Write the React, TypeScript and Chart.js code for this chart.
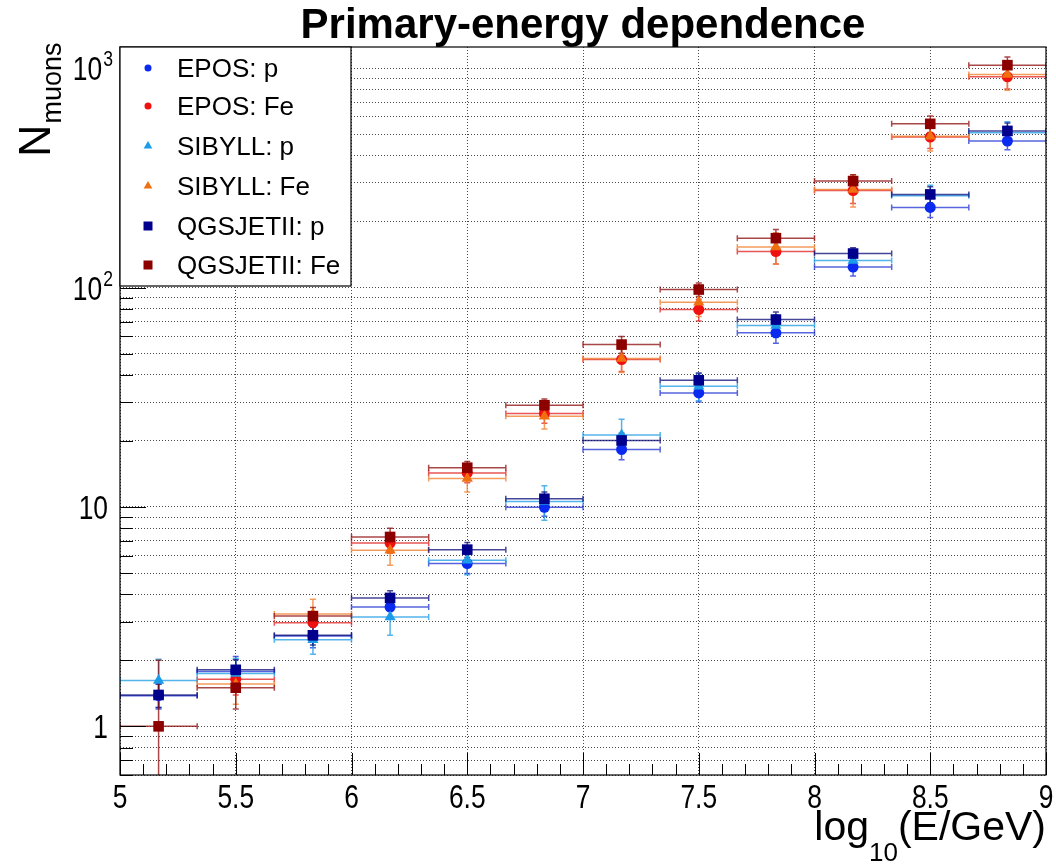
import React, { useEffect, useRef } from "react";
import { Chart, registerables } from "chart.js";

Chart.register(...registerables);

// ---------- data ----------
const binCenters = [5.1667, 5.5, 5.8333, 6.1667, 6.5, 6.8333, 7.1667, 7.5, 7.8333, 8.1667, 8.5, 8.8333];
const binHalfWidth = 0.1667;

const seriesNames = ["EPOS: p", "EPOS: Fe", "SIBYLL: p", "SIBYLL: Fe", "QGSJETII: p", "QGSJETII: Fe"];

const eposP = [1.38, 1.78, 2.58, 3.5, 5.52, 9.97, 18.3, 33.1, 62.2, 124, 232, 466];
const eposPErr = [0.18, 0.3, 0.3, 0.35, 0.55, 0.9, 1.9, 3.0, 6.5, 11, 23, 41];
const eposFe = [null, 1.64, 2.97, 6.85, 14.3, 26.7, 47.0, 79.4, 146, 277, 486, 914];
const eposFeErr = [null, 0.25, 0.35, 0.7, 1.4, 2.6, 5.5, 9, 18, 35, 55, 110];
const sibyllP = [1.62, 1.74, 2.48, 3.15, 5.71, 10.6, 21.3, 35.5, 67.2, 133, 262, 508];
const sibyllPErr = [0.4, 0.3, 0.35, 0.55, 0.8, 1.9, 3.8, 5, 8, 14, 31, 62];
const sibyllFe = [null, 1.56, 3.25, 6.35, 13.5, 25.9, 47.5, 85.8, 153, 280, 490, 937];
const sibyllFeErr = [null, 0.3, 0.55, 0.93, 1.8, 3.2, 6.5, 12, 25, 47, 70, 144];
const qgsP = [1.39, 1.81, 2.6, 3.85, 6.39, 10.9, 20.1, 37.8, 71.5, 143, 266, 518];
const qgsPErr = [0.17, 0.2, 0.25, 0.3, 0.5, 0.8, 1.6, 3, 6, 9, 22, 45];
const qgsFe = [1.0, 1.5, 3.18, 7.3, 15.1, 29.1, 55.0, 98, 168, 306, 558, 1033];
const qgsFeErr = [1.0, 0.3, 0.3, 0.7, 1.0, 2.0, 4.8, 7, 16, 21, 48, 92];

const xTickValues = [5, 5.5, 6, 6.5, 7, 7.5, 8, 8.5, 9];
const xTickLabels = ["5", "5.5", "6", "6.5", "7", "7.5", "8", "8.5", "9"];
const yGridValues = [
  0.6, 0.7, 0.8, 0.9, 1, 2, 3, 4, 5, 6, 7, 8, 9, 10, 20, 30, 40, 50, 60, 70, 80, 90,
  100, 200, 300, 400, 500, 600, 700, 800, 900, 1000,
];
const yMajorValues = [1, 10, 100, 1000];
const yLabelBases = ["1", "10", "10", "10"];
const yLabelExps = ["", "", "2", "3"];

const X_MIN = 5;
const X_MAX = 9;
const Y_MIN = 0.6;
const Y_MAX = 1250;

// ---------- styles ----------
const FONT = '"Liberation Sans", Arial, Helvetica, sans-serif';

const seriesTable = [
  { name: seriesNames[0], values: eposP, errors: eposPErr, color: "#0a2af0", line: "rgba(30,50,210,0.75)", style: "circle", radius: 5.5 },
  { name: seriesNames[1], values: eposFe, errors: eposFeErr, color: "#f01010", line: "rgba(225,30,30,0.75)", style: "circle", radius: 5.5 },
  { name: seriesNames[2], values: sibyllP, errors: sibyllPErr, color: "#1c9ce8", line: "rgba(40,160,230,0.8)", style: "triangle", radius: 6.5 },
  { name: seriesNames[3], values: sibyllFe, errors: sibyllFeErr, color: "#f06f10", line: "rgba(240,130,50,0.8)", style: "triangle", radius: 6.5 },
  { name: seriesNames[4], values: qgsP, errors: qgsPErr, color: "#00008c", line: "rgba(10,10,120,0.75)", style: "rect", radius: 7.5 },
  { name: seriesNames[5], values: qgsFe, errors: qgsFeErr, color: "#8c0000", line: "rgba(140,10,10,0.75)", style: "rect", radius: 7.5 },
];

function drawMarker(ctx: CanvasRenderingContext2D, style: string, x: number, y: number, r: number, color: string) {
  ctx.fillStyle = color;
  ctx.beginPath();
  if (style === "circle") {
    ctx.arc(x, y, r, 0, Math.PI * 2);
  } else if (style === "triangle") {
    ctx.moveTo(x, y - r);
    ctx.lineTo(x + r * 0.866, y + r * 0.5);
    ctx.lineTo(x - r * 0.866, y + r * 0.5);
    ctx.closePath();
  } else {
    ctx.rect(x - r, y - r, 2 * r, 2 * r);
  }
  ctx.fill();
}

const decorPlugin = {
  id: "decor",
  beforeDatasetsDraw(chart: any) {
    const { ctx, chartArea: a, scales } = chart;
    const xs = scales.x;
    const ys = scales.y;
    ctx.save();
    ctx.beginPath();
    ctx.rect(a.left, a.top, a.right - a.left, a.bottom - a.top);
    ctx.clip();
    ctx.lineWidth = 1.5;
    const cap = 3;
    seriesTable.forEach((s) => {
      ctx.strokeStyle = s.line;
      s.values.forEach((v: number | null, i: number) => {
        if (v == null) return;
        const e = s.errors[i] as number;
        const cx = xs.getPixelForValue(binCenters[i]);
        const x0 = xs.getPixelForValue(binCenters[i] - binHalfWidth);
        const x1 = xs.getPixelForValue(binCenters[i] + binHalfWidth);
        const cy = ys.getPixelForValue(v);
        const yHi = ys.getPixelForValue(v + e);
        const lo = v - e;
        const yLo = lo > 0 ? ys.getPixelForValue(lo) : a.bottom + 20;
        ctx.beginPath();
        ctx.moveTo(x0, cy);
        ctx.lineTo(x1, cy);
        ctx.moveTo(x0, cy - cap);
        ctx.lineTo(x0, cy + cap);
        ctx.moveTo(x1, cy - cap);
        ctx.lineTo(x1, cy + cap);
        ctx.moveTo(cx, yLo);
        ctx.lineTo(cx, yHi);
        ctx.moveTo(cx - cap, yHi);
        ctx.lineTo(cx + cap, yHi);
        if (lo > 0) {
          ctx.moveTo(cx - cap, yLo);
          ctx.lineTo(cx + cap, yLo);
        }
        ctx.stroke();
      });
    });
    ctx.restore();
  },
  afterDraw(chart: any) {
    const { ctx, chartArea: a, scales } = chart;
    const xs = scales.x;
    const ys = scales.y;
    ctx.save();

    // inner tick marks
    ctx.strokeStyle = "#000";
    ctx.lineWidth = 1;
    ctx.beginPath();
    for (let k = 0; k <= 40; k++) {
      const v = X_MIN + k * 0.1;
      const px = Math.round(xs.getPixelForValue(v)) + 0.5;
      const len = k % 5 === 0 ? 22 : 11;
      ctx.moveTo(px, a.bottom);
      ctx.lineTo(px, a.bottom - len);
    }
    yGridValues.forEach((v) => {
      const py = Math.round(ys.getPixelForValue(v)) + 0.5;
      const len = yMajorValues.includes(v) ? 26 : 13;
      ctx.moveTo(a.left, py);
      ctx.lineTo(a.left + len, py);
    });
    ctx.stroke();

    // frame
    ctx.strokeStyle = "#000";
    ctx.lineWidth = 1.2;
    ctx.strokeRect(a.left, a.top, a.right - a.left, a.bottom - a.top);

    ctx.fillStyle = "#000";
    // x tick labels
    const tickFs = 33;
    const squeeze = 0.8;
    ctx.font = `${tickFs}px ${FONT}`;
    ctx.textBaseline = "alphabetic";
    xTickValues.forEach((v, i) => {
      const px = xs.getPixelForValue(v);
      const w = ctx.measureText(xTickLabels[i]).width * squeeze;
      ctx.save();
      ctx.translate(px - w / 2, 808);
      ctx.scale(squeeze, 1);
      ctx.fillText(xTickLabels[i], 0, 0);
      ctx.restore();
    });

    // y tick labels
    yMajorValues.forEach((v, i) => {
      const py = ys.getPixelForValue(v);
      ctx.font = `${tickFs}px ${FONT}`;
      const wb = ctx.measureText(yLabelBases[i]).width * squeeze;
      let we = 0;
      if (yLabelExps[i]) {
        ctx.font = `${22}px ${FONT}`;
        we = ctx.measureText(yLabelExps[i]).width * squeeze + 1;
      }
      const right = yLabelExps[i] ? 113 : 108;
      const xb = right - we - wb;
      ctx.font = `${tickFs}px ${FONT}`;
      ctx.save();
      ctx.translate(xb, py + 12);
      ctx.scale(squeeze, 1);
      ctx.fillText(yLabelBases[i], 0, 0);
      ctx.restore();
      if (yLabelExps[i]) {
        ctx.font = `${22}px ${FONT}`;
        ctx.save();
        ctx.translate(xb + wb + 1, py - 2);
        ctx.scale(squeeze, 1);
        ctx.fillText(yLabelExps[i], 0, 0);
        ctx.restore();
      }
    });

    // title
    ctx.font = `bold 42px ${FONT}`;
    ctx.textAlign = "center";
    ctx.fillText("Primary-energy dependence", (a.left + a.right) / 2, 38);
    ctx.textAlign = "left";

    // y axis title
    ctx.save();
    ctx.translate(50, 157);
    ctx.rotate(-Math.PI / 2);
    ctx.font = `45px ${FONT}`;
    const wN = ctx.measureText("N").width;
    ctx.fillText("N", 0, 0);
    ctx.font = `27px ${FONT}`;
    ctx.fillText("muons", wN + 1, 11);
    ctx.restore();

    // x axis title
    ctx.font = `41px ${FONT}`;
    const wLog = ctx.measureText("log").width;
    const wRest = ctx.measureText("(E/GeV)").width;
    ctx.font = `26px ${FONT}`;
    const wSub = ctx.measureText("10").width;
    const startX = a.right - (wLog + wSub + wRest);
    ctx.font = `41px ${FONT}`;
    ctx.fillText("log", startX, 840);
    ctx.font = `26px ${FONT}`;
    ctx.fillText("10", startX + wLog, 861);
    ctx.font = `41px ${FONT}`;
    ctx.fillText("(E/GeV)", startX + wLog + wSub, 840);

    // legend
    const lx = a.left;
    const ly = a.top;
    const lw = 231;
    const lh = 239;
    ctx.fillStyle = "#fff";
    ctx.fillRect(lx, ly, lw, lh);
    ctx.strokeStyle = "#000";
    ctx.lineWidth = 1.2;
    ctx.strokeRect(lx, ly, lw, lh);
    ctx.font = `26px ${FONT}`;
    const rowYs = [68, 106, 146, 186, 226, 265];
    seriesTable.forEach((s, i) => {
      const ry = rowYs[i];
      const mr = s.style === "circle" ? 3.5 : s.style === "triangle" ? 5 : 4.5;
      drawMarker(ctx, s.style, lx + 28, ry, mr, s.color);
      ctx.fillStyle = "#000";
      ctx.fillText(s.name, lx + 57, ry + 9);
    });

    ctx.restore();
  },
};

export default function App() {
  const ref = useRef<HTMLCanvasElement>(null);
  useEffect(() => {
    document.body.style.margin = "0";
    const datasets = seriesTable.map((s, idx) => ({
      label: s.name,
      data: binCenters
        .map((x, i) => ({ x, y: s.values[i] }))
        .filter((p) => p.y != null),
      pointStyle: s.style,
      pointRadius: s.radius,
      pointBackgroundColor: s.color,
      pointBorderColor: s.color,
      pointBorderWidth: 0,
      showLine: false,
      order: seriesTable.length - 1 - idx,
    }));
    const chart = new Chart(ref.current as HTMLCanvasElement, {
      type: "scatter",
      data: { datasets: datasets as any },
      options: {
        animation: false,
        responsive: false,
        devicePixelRatio: 1,
        events: [],
        layout: { padding: { left: 120, right: 10, top: 47, bottom: 89 } },
        plugins: {
          legend: { display: false },
          tooltip: { enabled: false },
          title: { display: false },
        },
        scales: {
          x: {
            type: "linear",
            min: X_MIN,
            max: X_MAX,
            afterBuildTicks: (scale: any) => {
              scale.ticks = xTickValues.map((v) => ({ value: v }));
            },
            ticks: { display: false },
            grid: { color: "rgba(40,40,40,0.85)", lineWidth: 1, drawTicks: false },
            border: { display: false, dash: [1, 2] },
          },
          y: {
            type: "logarithmic",
            min: Y_MIN,
            max: Y_MAX,
            afterBuildTicks: (scale: any) => {
              scale.ticks = yGridValues.map((v) => ({ value: v }));
            },
            ticks: { display: false },
            grid: { color: "rgba(40,40,40,0.85)", lineWidth: 1, drawTicks: false },
            border: { display: false, dash: [1, 2] },
          },
        },
      },
      plugins: [decorPlugin],
    });
    return () => chart.destroy();
  }, []);
  return (
    <div style={{ width: 1056, height: 864, background: "#fff" }}>
      <canvas ref={ref} width={1056} height={864} style={{ display: "block" }} />
    </div>
  );
}
